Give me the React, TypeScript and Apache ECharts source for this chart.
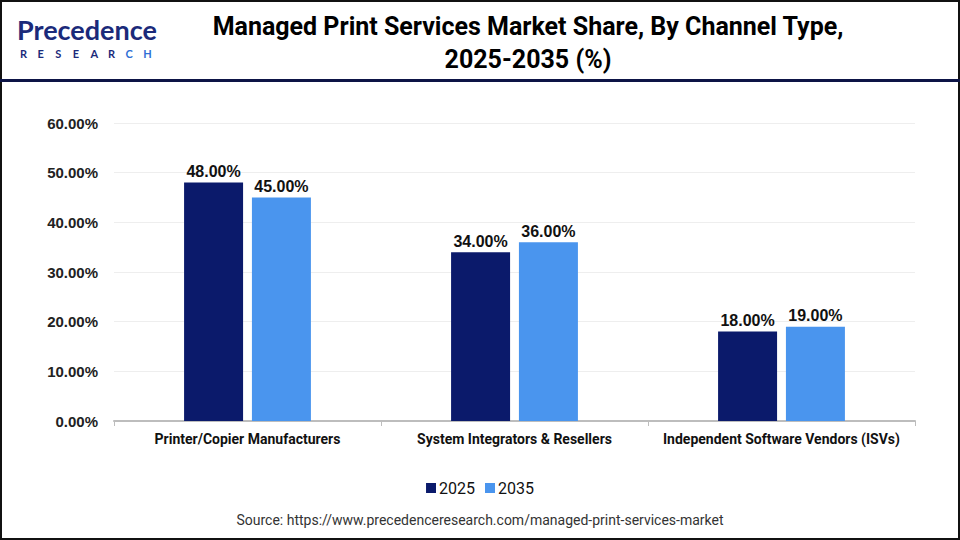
import React, { useEffect, useRef } from "react";
import * as echarts from "echarts";

const categories = [
  "Printer/Copier Manufacturers",
  "System Integrators & Resellers",
  "Independent Software Vendors (ISVs)",
];
const share2025 = [48, 34, 18];
const share2035 = [45, 36, 19];
const yTicks = { min: 0, max: 60, interval: 10 };

const NAVY = "#0b1a6b";
const BLUE = "#4a95ee";
const SANS = "Arial, 'Liberation Sans', sans-serif";
const NARROW = "Roboto, 'Liberation Sans', sans-serif";

const pct = (v: number) => v.toFixed(2) + "%";

// letter-spaced brand subtitle
const brandLetters = "RESEARCH".split("");

export default function App() {
  const ref = useRef<HTMLDivElement>(null);

  useEffect(() => {
    if (!ref.current) return;
    const chart = echarts.init(ref.current, null, { renderer: "svg" });
    const barLabel = {
      show: true,
      position: "top" as const,
      distance: 3,
      formatter: (p: any) => pct(p.value),
      fontFamily: SANS,
      fontWeight: "bold" as const,
      fontSize: 16,
      color: "#111",
    };
    chart.setOption({
      animation: false,
      backgroundColor: "#fff",
      graphic: [
        {
          type: "rect",
          shape: { x: 1, y: 1, width: 958, height: 538 },
          style: { fill: "none", stroke: "#111", lineWidth: 2 },
        },
        {
          type: "rect",
          shape: { x: 0, y: 79, width: 960, height: 3 },
          style: { fill: "#0d1446" },
        },
        {
          type: "text",
          x: 528,
          y: 10,
          style: {
            text: "Managed Print Services Market Share, By Channel Type,\n2025-2035 (%)",
            textAlign: "center",
            fontFamily: NARROW,
            fontWeight: "bold",
            fontSize: 25,
            lineHeight: 33,
            fill: "#000",
          },
        },
        {
          type: "text",
          x: 17,
          y: 16,
          style: {
            text: "Precedence",
            fontFamily: "Lato, 'Noto Sans', sans-serif",
            fontWeight: "bold",
            fontSize: 27,
            fill: "#1b2a7a",
          },
        },
        ...brandLetters.map((ch, i) => ({
          type: "text",
          x: 20 + i * 17.6,
          y: 48,
          style: {
            text: ch,
            fontFamily: "Lato, 'Noto Sans', sans-serif",
            fontWeight: "bold",
            fontSize: 11,
            fill: i >= 6 ? "#2f6fd6" : "#1b2a7a",
          },
        })),
        {
          type: "text",
          x: 480,
          y: 513,
          style: {
            text: "Source: https://www.precedenceresearch.com/managed-print-services-market",
            textAlign: "center",
            fontFamily: NARROW,
            fontSize: 14,
            fill: "#333",
          },
        },
      ],
      legend: {
        data: ["2025", "2035"],
        left: "center",
        top: 475,
        itemWidth: 10,
        itemHeight: 10,
        itemGap: 10,
        icon: "rect",
        textStyle: { fontFamily: NARROW, fontSize: 16, color: "#111", padding: [0, 0, 0, -2] },
      },
      grid: { left: 114, right: 45, top: 123, bottom: 119, containLabel: false },
      xAxis: {
        type: "category",
        data: categories,
        axisLine: { lineStyle: { color: "#bdbdbd", width: 2 } },
        axisTick: { show: true, length: 5, lineStyle: { color: "#bdbdbd" } },
        axisLabel: {
          interval: 0,
          margin: 11,
          fontFamily: NARROW,
          fontWeight: "bold",
          fontSize: 14,
          color: "#111",
        },
      },
      yAxis: {
        type: "value",
        min: yTicks.min,
        max: yTicks.max,
        interval: yTicks.interval,
        axisLine: { show: false },
        axisTick: { show: false },
        splitLine: { lineStyle: { color: "#eeeeee" } },
        axisLabel: {
          margin: 16,
          formatter: (v: number) => pct(v),
          fontFamily: SANS,
          fontWeight: "bold",
          fontSize: 15,
          color: "#222",
        },
      },
      series: [
        {
          name: "2025",
          type: "bar",
          data: share2025,
          barWidth: 59,
          barGap: "15%",
          itemStyle: { color: NAVY },
          label: barLabel,
        },
        {
          name: "2035",
          type: "bar",
          data: share2035,
          barWidth: 59,
          barGap: "15%",
          itemStyle: { color: BLUE },
          label: barLabel,
        },
      ],
    });
    return () => chart.dispose();
  }, []);

  return <div ref={ref} style={{ width: 960, height: 540, position: "absolute", left: 0, top: 0 }} />;
}
